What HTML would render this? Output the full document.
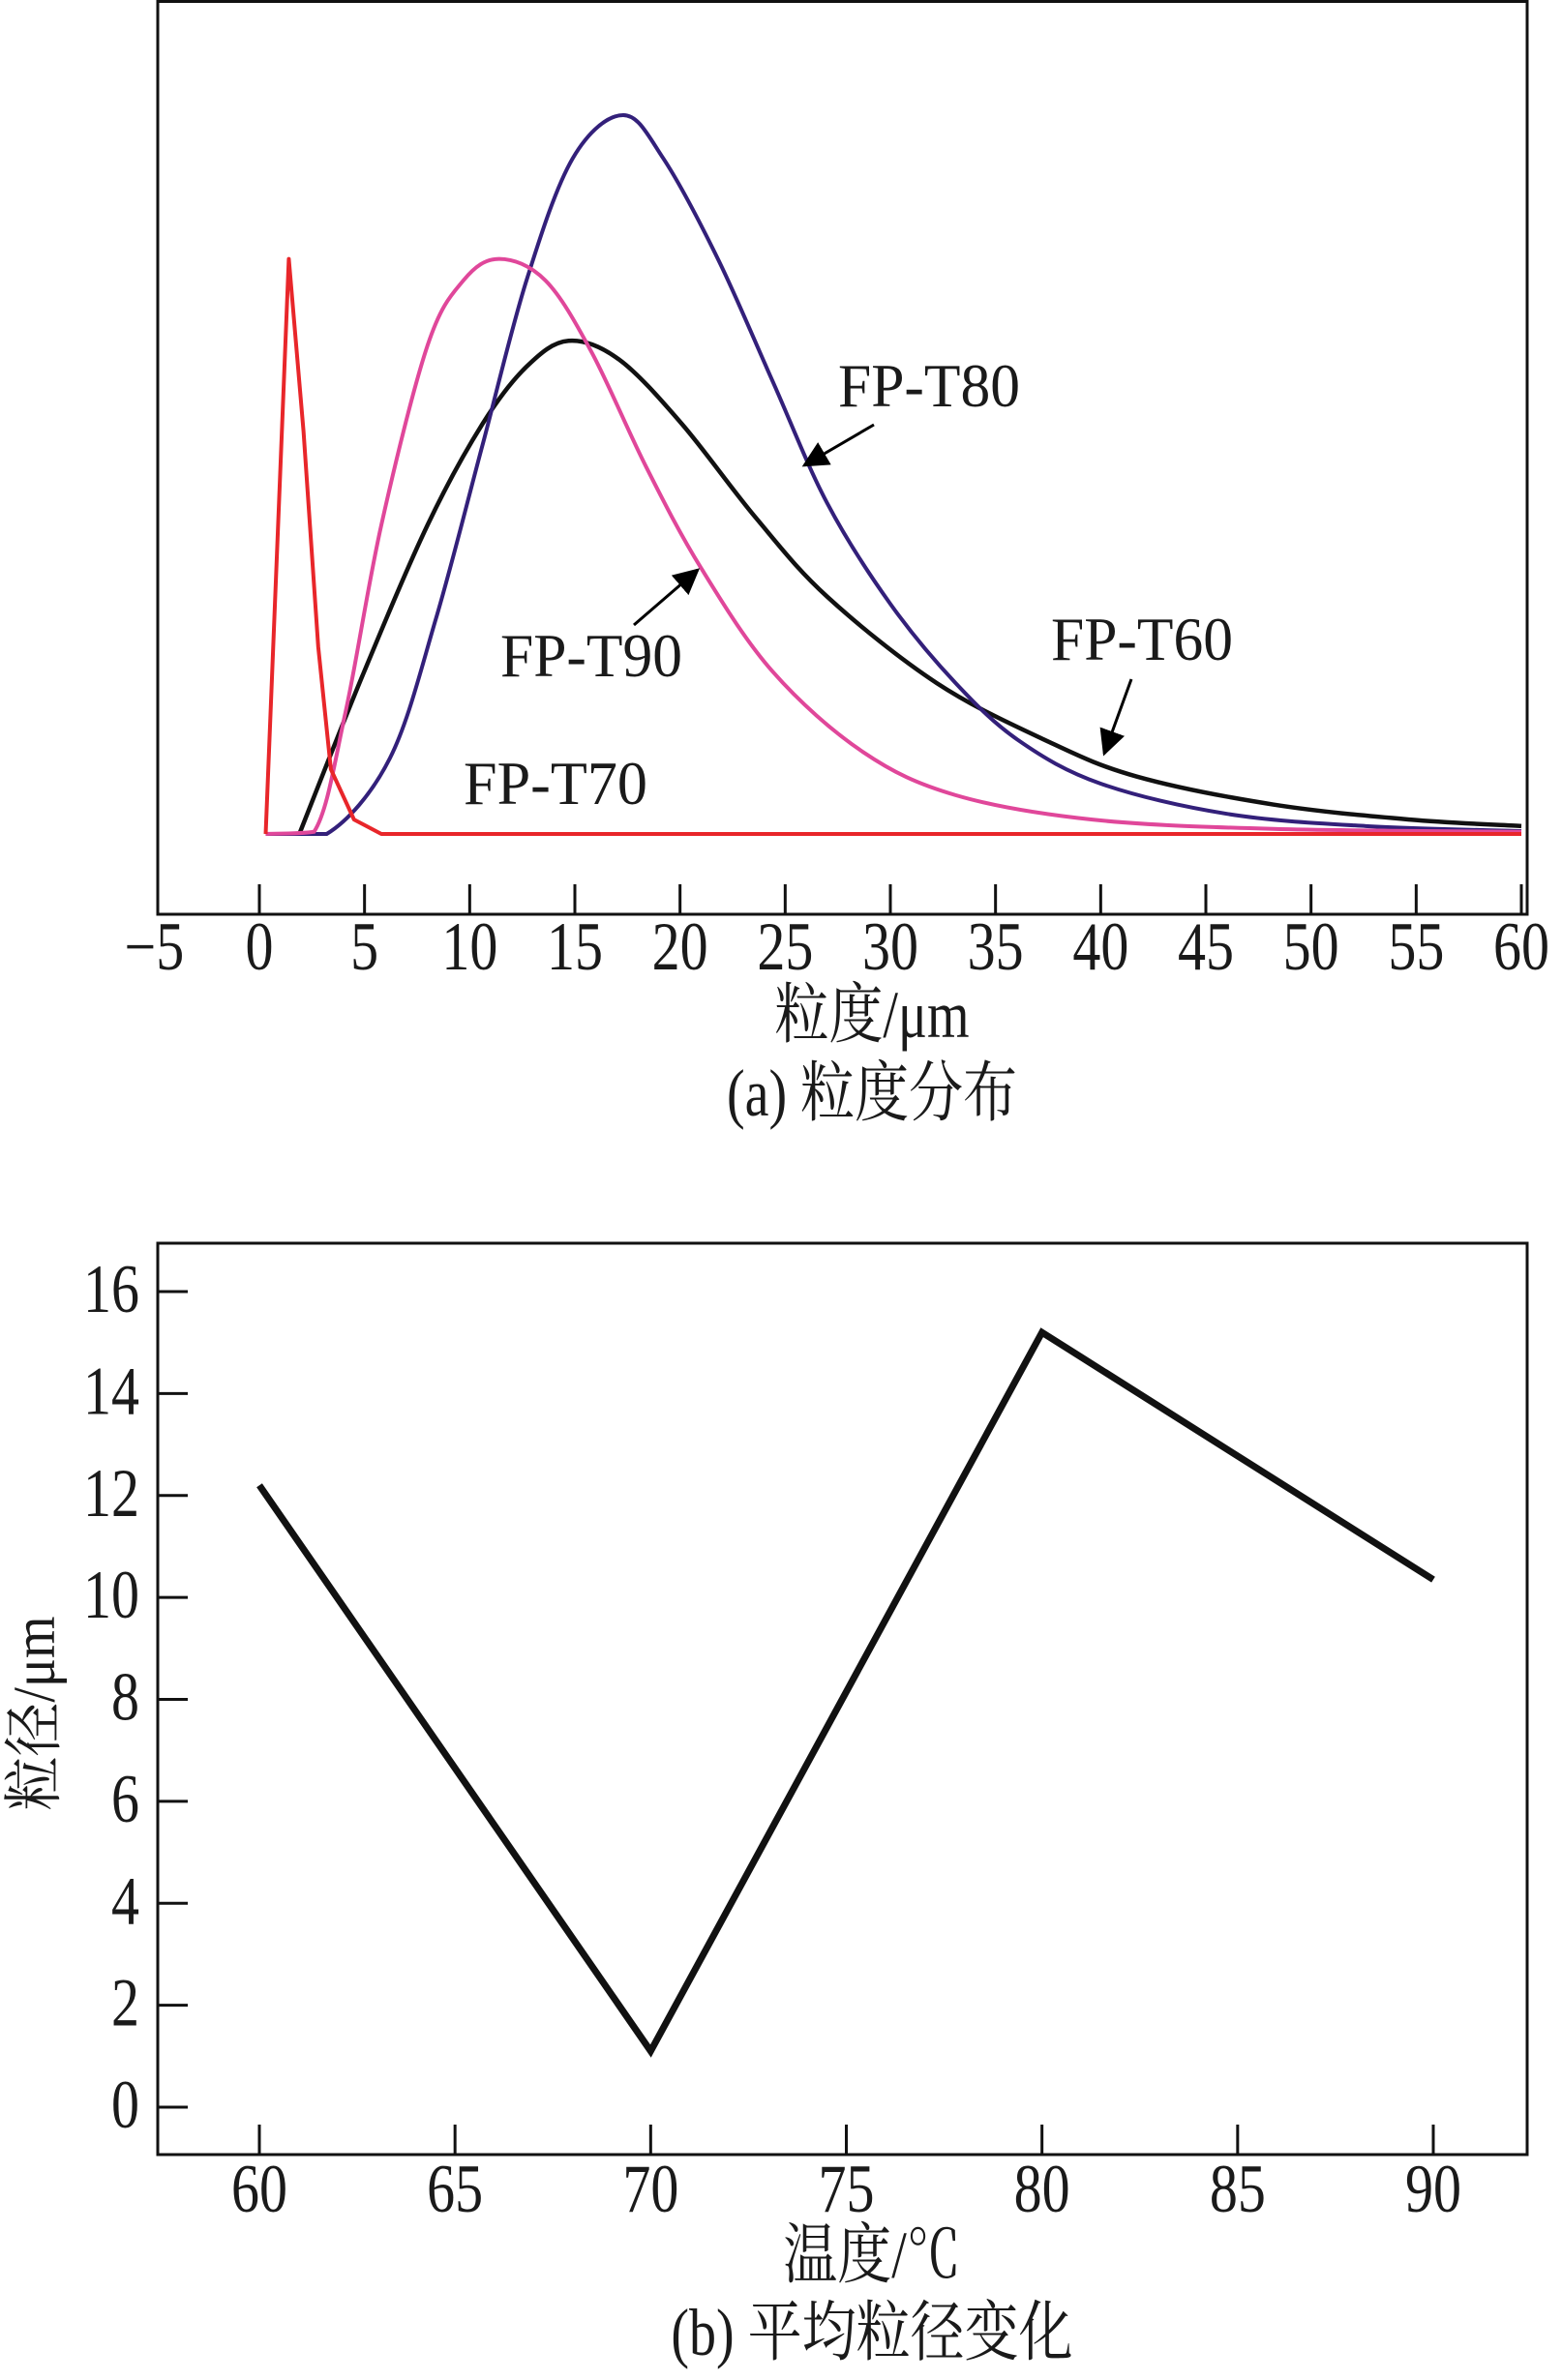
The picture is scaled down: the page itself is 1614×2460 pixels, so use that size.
<!DOCTYPE html>
<html><head><meta charset="utf-8"><style>
html,body{margin:0;padding:0;background:#fff;}
svg{display:block;font-family:"Liberation Serif","Noto Serif CJK SC",serif;}
</style></head><body>
<svg id="chart" width="1614" height="2460" viewBox="0 0 1614 2460">
<defs><marker id="ah" viewBox="0 0 10 10" refX="9" refY="5" markerWidth="9" markerHeight="9" orient="auto"><path d="M0,0 L10,5 L0,10 z" fill="#000"/></marker></defs>
</svg>
<script>
// ---- chart (a) data ----
const t80X=[0.3,3.2,6.2,8.4,10.6,12.7,14.9,17.3,19.2,21.8,24.4,27.0,30.0,33.1,36.1,40.0,46.0,52.6,60];
const t80Y=[0,0,10.5,30,54,77,94,100,94,80,63,46,32,21,13,7,2.8,1.1,0.4];
const t60X=[1.9,4.9,8.0,10.6,12.7,14.7,17.1,20.1,23.6,27.0,32.2,37.4,41.7,48.2,54.7,60];
const t60Y=[0,22,43,57,65,68.6,66,57,44,33,21,13,8,4.1,2,1.1];
const t90X=[0.3,2.6,4.1,5.8,8.0,9.7,11.4,13.6,15.8,18.4,21.0,24.4,28.7,33.1,39.6,48.2,60];
const t90Y=[0,0.3,17,43,68,77,80,77,67,51,37,22.6,11.4,5.4,2,0.7,0.3];
const t70X=[0.3,1.4,2.1,2.8,3.4,4.5,5.8,60];
const t70Y=[0,80,56,26,9,2,0,0];
const aTicks=[-5,0,5,10,15,20,25,30,35,40,45,50,55,60];
// ---- chart (b) data ----
const tempCats=[60,70,80,90];
const sizeVals=[12.2,1.1,15.2,10.35];
const bXTicks=[60,65,70,75,80,85,90];
const bYTicks=[0,2,4,6,8,10,12,14,16];

const NS="http://www.w3.org/2000/svg";
const svg=document.getElementById('chart');
function el(tag,attrs,parent){const e=document.createElementNS(NS,tag);for(const k in attrs)e.setAttribute(k,attrs[k]);(parent||svg).appendChild(e);return e;}
function txt(x,y,s,size,anchor,name,extra){
  const g=el('g',{transform:`translate(${x},${y}) scale(1,1.22)`});
  const t=el('text',{x:0,y:0,'font-size':size,'text-anchor':anchor||'middle',fill:'#1a1a1a'},g);
  if(extra)for(const k in extra)t.setAttribute(k,extra[k]);
  t.textContent=s;
  
  
  return t;
}
const ax=v=>268+(v-0)*(1572-268)/60;
const ay=h=>862-h*(862-119)/100;
const fa=el('rect',{x:163,y:1.5,width:1415,height:943.5,fill:'none',stroke:'#111','stroke-width':3});


aTicks.forEach(v=>{
  if(v>=0){const l=el('line',{x1:ax(v),x2:ax(v),y1:945,y2:914,stroke:'#111','stroke-width':3});
  
  }
  txt(ax(v),1002,v<0?'\u2212'+(-v):String(v),58,'middle','x-tick-label-a');
});
function smooth(xs,ys,fx,fy){
  const P=xs.map((x,i)=>[fx(x),fy(ys[i])]);
  const base=fy(0);
  let d=`M${P[0][0]},${P[0][1]}`;
  for(let i=0;i<P.length-1;i++){
    const p0=P[Math.max(0,i-1)],p1=P[i],p2=P[i+1],p3=P[Math.min(P.length-1,i+2)];
    const c1=[p1[0]+(p2[0]-p0[0])/6,Math.min(base,p1[1]+(p2[1]-p0[1])/6)];
    const c2=[p2[0]-(p3[0]-p1[0])/6,Math.min(base,p2[1]-(p3[1]-p1[1])/6)];
    d+=` C${c1[0]},${c1[1]} ${c2[0]},${c2[1]} ${p2[0]},${p2[1]}`;
  }
  return d;
}
function poly(xs,ys,fx,fy){return xs.map((x,i)=>(i?'L':'M')+fx(x)+','+fy(ys[i])).join(' ');}
const c1=el('path',{d:smooth(t60X,t60Y,ax,ay),fill:'none',stroke:'#111','stroke-width':4.5});


const c2=el('path',{d:smooth(t80X,t80Y,ax,ay),fill:'none',stroke:'#33207a','stroke-width':4});


const c3=el('path',{d:smooth(t90X,t90Y,ax,ay),fill:'none',stroke:'#e0479a','stroke-width':4});


const c4=el('path',{d:poly(t70X,t70Y,ax,ay),fill:'none',stroke:'#e8262a','stroke-width':4,'stroke-linejoin':'round'});


txt(960,420,'FP-T80',52,'middle','label-fp-t80',{textLength:188,lengthAdjust:'spacingAndGlyphs'});
txt(611,699,'FP-T90',52,'middle','label-fp-t90',{textLength:188,lengthAdjust:'spacingAndGlyphs'});
txt(1180,682,'FP-T60',52,'middle','label-fp-t60',{textLength:188,lengthAdjust:'spacingAndGlyphs'});
txt(574,831,'FP-T70',52,'middle','label-fp-t70',{textLength:190,lengthAdjust:'spacingAndGlyphs'});
[[903,439,831,481,'arrow-fp-t80'],[655,646,721,589,'arrow-fp-t90'],[1169,702,1141,779,'arrow-fp-t60']].forEach(a=>{
  const l=el('line',{x1:a[0],y1:a[1],x2:a[2],y2:a[3],stroke:'#000','stroke-width':3,'marker-end':'url(#ah)'});
  
  
});
txt(901,1072,'粒度/μm',56,'middle','x-axis-title-a');
txt(901,1153,'(a) 粒度分布',56,'middle','caption-a');

const bx=v=>268+(v-60)*(1481-268)/30;
const by=v=>2178-v*(2178-1335)/16;
const fb=el('rect',{x:163,y:1285,width:1415,height:942,fill:'none',stroke:'#111','stroke-width':3});


bXTicks.forEach(v=>{
  const l=el('line',{x1:bx(v),x2:bx(v),y1:2227,y2:2196,stroke:'#111','stroke-width':3});
  
  
  txt(bx(v),2286,String(v),58,'middle','x-tick-label-b');
});
bYTicks.forEach(v=>{
  const l=el('line',{x1:163,x2:194,y1:by(v),y2:by(v),stroke:'#111','stroke-width':3});
  
  
  txt(144,by(v)+21,String(v),58,'end','y-tick-label-b');
});
const lb=el('path',{d:poly(tempCats,sizeVals,bx,by),fill:'none',stroke:'#111','stroke-width':7,'stroke-linejoin':'miter'});


txt(901,2354,'温度/℃',56,'middle','x-axis-title-b');
txt(901,2434,'(b) 平均粒径变化',56,'middle','caption-b');
const gy=el('g',{transform:'translate(56,1771) rotate(-90) scale(1,1.1)'});
const ty=el('text',{x:0,y:0,'font-size':56,'text-anchor':'middle',fill:'#1a1a1a'},gy);
ty.textContent='粒径/μm';


</script>
</body></html>
